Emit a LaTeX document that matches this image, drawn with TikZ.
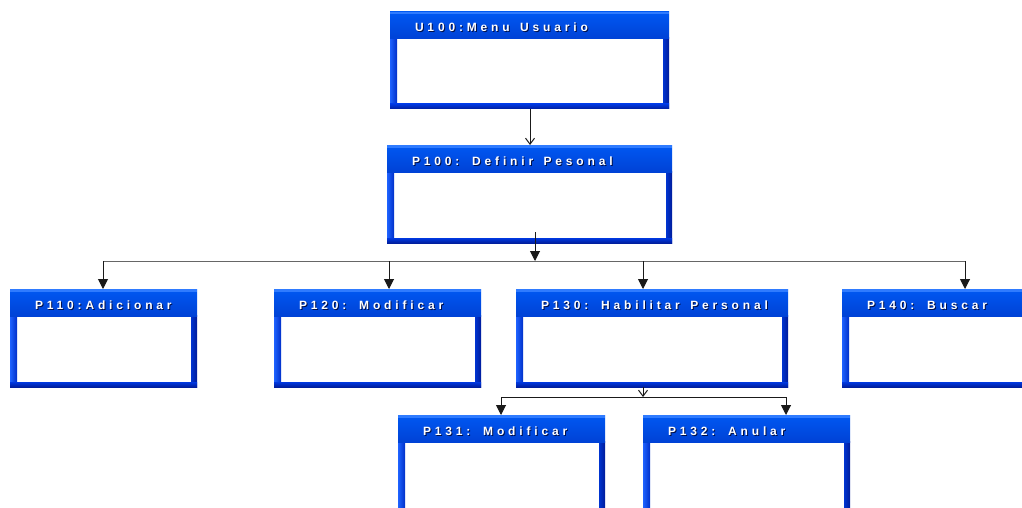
\documentclass[tikz,border=0pt]{standalone}
\usepackage{fontspec}
\usetikzlibrary{arrows.meta}
\newfontfamily\hdrfont[LetterSpace=32,WordSpace=1.45]{Liberation Sans}
\definecolor{hA}{HTML}{2F7BFF}
\definecolor{hB}{HTML}{0058F2}
\definecolor{hC}{HTML}{0042D6}
\definecolor{blA}{HTML}{1E62FF}
\definecolor{blB}{HTML}{0030C8}
\definecolor{brA}{HTML}{0034D0}
\definecolor{brB}{HTML}{001C9A}
\definecolor{bbA}{HTML}{0038E0}
\definecolor{bbB}{HTML}{001E9E}
\definecolor{shd}{HTML}{00104A}
\definecolor{lin}{HTML}{1A1A1A}
\tikzset{
  pb/.style={rectangle, inner sep=0pt, outer sep=0pt},
  hdr/.style={inner sep=0pt, outer sep=0pt, font=\hdrfont\bfseries\fontsize{12}{12}\selectfont},
  conn/.style={draw=lin, line width=1pt},
  fulltip/.style={-{Triangle[length=10pt,width=10pt]}},
  opentip/.style={-{Straight Barb[length=6pt,width=9pt]}},
}
% name, x1, y1, x2, y2, label
\newcommand\pbox[6]{%
  \node[pb, minimum width={(#4-#2)*1pt}, minimum height={(#5-#3)*1pt}] (#1) at ({(#2+#4)/2},{(#3+#5)/2}) {};
  \fill[white] (#2,#3) rectangle (#4,#5);
  \shade[left color=blA, right color=blB] (#2,#3+26) rectangle (#2+7,#5);
  \shade[left color=brA, right color=brB] (#4-6,#3+26) rectangle (#4,#5);
  \shade[top color=bbA, bottom color=bbB] (#2,#5-5) rectangle (#4,#5);
  \shade[top color=hB, bottom color=hC] (#2,#3) rectangle (#4,#3+27);
  \fill[hA] (#2,#3) rectangle (#4,#3+2.5);
  \node[hdr, anchor=base west, text=shd] at (#2+26,#3+21) {#6};
  \node[hdr, anchor=base west, text=white] at (#2+25,#3+20) {#6};
}
\begin{document}
\begin{tikzpicture}[x=1pt, y=-1pt]
\useasboundingbox (0,0) rectangle (1022,508);
\fill[white] (0,0) rectangle (1022,508);

\pbox{u100}{390}{12}{669}{109}{U100:Menu Usuario}
\pbox{p100}{387}{145}{672}{243}{P100: Definir Pesonal}
\pbox{p110}{10}{289}{197}{387}{P110:Adicionar}
\pbox{p120}{274}{289}{481}{387}{P120: Modificar}
\pbox{p130}{516}{289}{788}{387}{P130: Habilitar Personal}
\pbox{p140}{842}{289}{1040}{387}{P140: Buscar}
\pbox{p131}{398}{415}{605}{530}{P131: Modificar}
\pbox{p132}{643}{415}{850}{530}{P132: Anular}

% U100 -> P100
\coordinate (a1) at (530,0);
\draw[conn, opentip] (u100.south -| a1) -- (p100.north -| a1);

% P100 -> bus
\coordinate (j0) at (535,232);
\coordinate (j1) at (535,261);
\draw[conn, fulltip] (j0) -- (j1);
\coordinate (b1) at (103,261);
\coordinate (b2) at (389,261);
\coordinate (b3) at (643,261);
\coordinate (b4) at (965,261);
\draw[conn, draw=gray!80!black] (b1) -- (b4);
\draw[conn, fulltip] (b1) -- (b1 |- p110.north);
\draw[conn, fulltip] (b2) -- (b2 |- p120.north);
\draw[conn, fulltip] (b3) -- (b3 |- p130.north);
\draw[conn, fulltip] (b4) -- (b4 |- p140.north);

% P130 -> sub bus
\coordinate (s0) at (643,397);
\draw[conn, opentip] (p130.south -| s0) -- (s0);
\coordinate (s1) at (501,397);
\coordinate (s2) at (786,397);
\draw[conn] (s1) -- (s2);
\draw[conn, fulltip] (s1) -- (s1 |- p131.north);
\draw[conn, fulltip] (s2) -- (s2 |- p132.north);
\end{tikzpicture}
\end{document}
